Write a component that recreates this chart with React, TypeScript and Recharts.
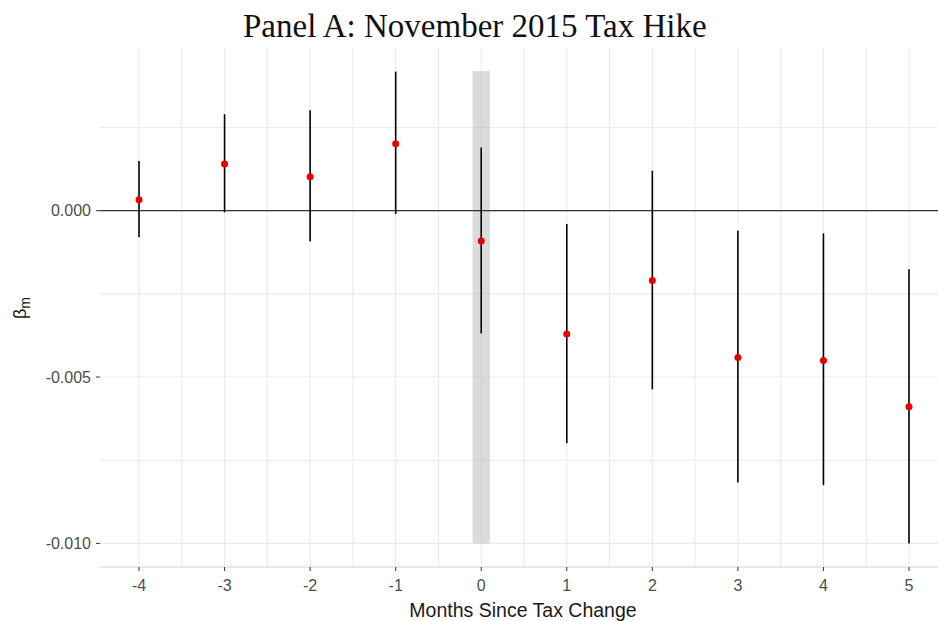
import React from 'react';
import {
  ComposedChart,
  Scatter,
  XAxis,
  YAxis,
  CartesianGrid,
  ReferenceLine,
  ReferenceArea,
  ErrorBar,
  Label,
} from 'recharts';

const months = [-4, -3, -2, -1, 0, 1, 2, 3, 4, 5];
const beta = [0.00033, 0.0014, 0.00102, 0.00201, -0.00091, -0.00371, -0.0021, -0.00441, -0.0045, -0.00589];
const ciLow = [-0.0008, -0.00005, -0.00092, -0.0001, -0.00369, -0.00699, -0.00537, -0.00817, -0.00825, -0.01];
const ciHigh = [0.00149, 0.0029, 0.00302, 0.00418, 0.0019, -0.0004, 0.0012, -0.0006, -0.00068, -0.00176];

const xTicks = [-4, -3, -2, -1, 0, 1, 2, 3, 4, 5];
const xMinor = [-3.5, -2.5, -1.5, -0.5, 0.5, 1.5, 2.5, 3.5, 4.5];
const yTicks = [0, -0.005, -0.01];
const yMinor = [0.0025, -0.0025, -0.0075];

const shadeX = [-0.1, 0.1];
const shadeY = [-0.01, 0.0042];

const title = 'Panel A: November 2015 Tax Hike';
const xTitle = 'Months Since Tax Change';

const data = months.map((m, i) => ({
  x: m,
  y: beta[i],
  err: [beta[i] - ciLow[i], ciHigh[i] - beta[i]],
}));

const gridX = [...xTicks, ...xMinor];
const gridY = [...yTicks, ...yMinor];

const sans = '"Liberation Sans", Arial, sans-serif';

const XTitle = (props: any) => {
  const vb = props.viewBox || { x: 100, width: 838 };
  return (
    <text x={vb.x + vb.width / 2 + 4} y={617} textAnchor="middle" fontFamily={sans} fontSize={19.5} fill="#1a1a1a">
      {xTitle}
    </text>
  );
};

const YTitle = () => (
  <text
    x={26}
    y={308}
    transform="rotate(-90, 26, 308)"
    textAnchor="middle"
    fontFamily={sans}
    fontSize={18}
    fill="#1a1a1a"
  >
    β<tspan fontSize={14} dy={4}>m</tspan>
  </text>
);

const Dot = (props: any) => {
  const { cx, cy } = props;
  return <circle cx={cx} cy={cy} r={3.5} fill="#e60000" />;
};

export default function App() {
  return (
    <div style={{ position: 'absolute', left: 0, top: 0, width: 938, height: 621, background: '#fff' }}>
      <div
        style={{
          position: 'absolute',
          left: 243,
          top: 10,
          fontFamily: '"Liberation Serif", "Times New Roman", serif',
          fontSize: 33,
          lineHeight: '33px',
          whiteSpace: 'nowrap',
          color: '#111',
        }}
      >
        {title}
      </div>
      <ComposedChart
        width={938}
        height={621}
        data={data}
        margin={{ top: 48, right: 0, bottom: 0, left: 0 }}
      >
        <CartesianGrid stroke="#EBEBEB" strokeWidth={1.1} horizontalValues={gridY} verticalValues={gridX} />
        <XAxis
          type="number"
          dataKey="x"
          domain={[-4.456, 5.339]}
          allowDataOverflow
          ticks={xTicks}
          height={54}
          tick={{ fill: '#4D4D4D', fontSize: 16, fontFamily: sans }}
          tickLine={{ stroke: '#333' }}
          tickSize={4}
          tickMargin={9}
          axisLine={{ stroke: '#D0D0D0' }}
          interval={0}
        >
          <Label content={<XTitle />} />
        </XAxis>
        <YAxis
          type="number"
          dataKey="y"
          domain={[-0.01071, 0.00489]}
          allowDataOverflow
          ticks={yTicks}
          width={100}
          tickFormatter={(v: number) => v.toFixed(3)}
          tick={{ fill: '#4D4D4D', fontSize: 16, fontFamily: sans }}
          tickLine={{ stroke: '#333' }}
          tickSize={4}
          tickMargin={5}
          axisLine={false}
          interval={0}
        >
          <Label content={<YTitle />} />
        </YAxis>
        <ReferenceArea
          x1={shadeX[0]}
          x2={shadeX[1]}
          y1={shadeY[0]}
          y2={shadeY[1]}
          fill="#BDBDBD"
          fillOpacity={0.55}
          stroke="none"
        />
        <ReferenceLine y={0} stroke="#333" strokeWidth={1.2} />
        <Scatter dataKey="y" isAnimationActive={false} shape={<Dot />}>
          <ErrorBar dataKey="err" direction="y" width={0} stroke="#000" strokeWidth={1.6} isAnimationActive={false} />
        </Scatter>
      </ComposedChart>
    </div>
  );
}
